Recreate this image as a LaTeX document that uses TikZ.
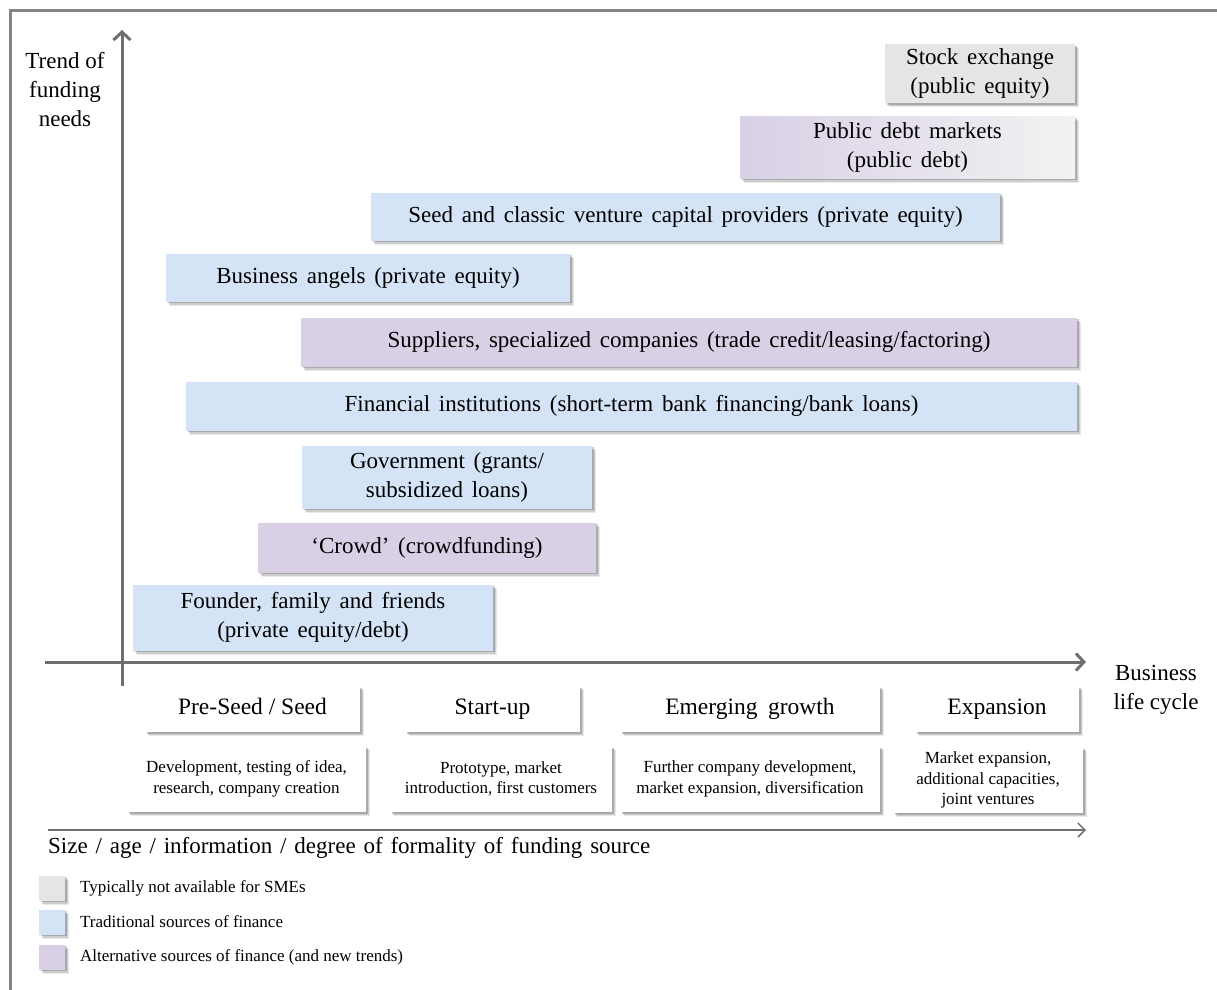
\documentclass[tikz,border=0pt]{standalone}
\usepackage{fontspec}
\setmainfont{Liberation Serif}
\usetikzlibrary{arrows.meta,shadows}
\definecolor{axisgray}{HTML}{6E6E6E}
\definecolor{framegray}{HTML}{858585}
\definecolor{tradblue}{HTML}{D5E3F6}
\definecolor{altlilac}{HTML}{D9D0E6}
\definecolor{nosme}{HTML}{E5E5E5}
\definecolor{paleend}{HTML}{F2F2F2}
\newcommand\widewords{\spaceskip=0.38em plus 0.1em\relax}
\newcommand\roomywords{\spaceskip=0.34em plus 0.1em\relax}
\tikzset{
  % layered shadows give a soft edge at the right and bottom
  softshadow/.style={
    drop shadow={shadow xshift=4pt,shadow yshift=-4pt,opacity=.12,fill=black!70},
    drop shadow={shadow xshift=3pt,shadow yshift=-3pt,opacity=.18,fill=black!70},
    drop shadow={shadow xshift=1.8pt,shadow yshift=-1.8pt,opacity=.28,fill=black!70}},
  srcbox/.style={rectangle,inner sep=0pt,align=center,softshadow,
    font=\fontsize{23}{29}\selectfont,execute at begin node=\widewords},
  trad/.style={srcbox,fill=tradblue},
  alt/.style={srcbox,fill=altlilac},
  notsme/.style={srcbox,fill=nosme},
  stagebox/.style={rectangle,inner sep=0pt,fill=white,softshadow,
    text height=16pt,text depth=5pt,
    font=\fontsize{23.5}{29}\selectfont},
  descbox/.style={rectangle,inner sep=0pt,fill=white,softshadow,align=center,
    font=\fontsize{17}{20.5}\selectfont},
  legsq/.style={rectangle,inner sep=0pt,minimum width=26,minimum height=25,softshadow},
  legtext/.style={anchor=west,inner sep=0pt,font=\fontsize{17}{20}\selectfont},
  axis/.style={draw=axisgray,line width=3pt,-{Straight Barb[length=8pt,width=17pt,line width=3pt]}},
  thinaxis/.style={draw=axisgray,line width=1.5pt,-{Straight Barb[length=7pt,width=14pt,line width=1.5pt]}},
  axislabel/.style={align=center,inner sep=0pt,font=\fontsize{23}{29}\selectfont},
}
\begin{document}
\begin{tikzpicture}[x=1pt,y=-1pt]
\useasboundingbox (0,0) rectangle (1217,989);
\begin{scope}
\clip (0,0) rectangle (1217,989);
\draw[framegray,line width=3pt] (10,10) rectangle (1240,1010);
\end{scope}

% funding sources
\node[notsme,minimum width=190,minimum height=59] (stock) at (980,73.5) {Stock exchange\\(public equity)};
\node[srcbox,left color=altlilac,right color=paleend,minimum width=335,minimum height=62] (pdebt) at (907.5,147.5) {Public debt markets\\(public debt)};
\node[trad,minimum width=629,minimum height=48] (vc) at (685.5,216.5) {Seed and classic venture capital providers (private equity)};
\node[trad,minimum width=404,minimum height=48] (angels) at (368,277.5) {Business angels (private equity)};
\node[alt,minimum width=776,minimum height=49] (suppl) at (689,342) {Suppliers, specialized companies (trade credit/leasing/factoring)};
\node[trad,minimum width=891,minimum height=49] (fin) at (631.5,406) {Financial institutions (short-term bank financing/bank loans)};
\node[trad,minimum width=290,minimum height=63] (gov) at (447,477) {Government (grants/\\subsidized loans)};
\node[alt,minimum width=338,minimum height=50] (crowd) at (427,547.5) {‘Crowd’ (crowdfunding)};
\node[trad,minimum width=360,minimum height=66] (founder) at (313,617.5) {Founder, family and friends\\(private equity/debt)};

% axes
\coordinate (vbot) at (122,686);
\coordinate (vtop) at (122,30);
\coordinate (hleft) at (45,662);
\coordinate (hright) at (1086,662);
\draw[axis] (vbot) -- (vtop);
\draw[axis] (hleft) -- (hright);
\node[axislabel] (trend) at (65,90) {Trend of\\funding\\needs};
\node[axislabel] (cycle) at (1156,690) {Business\\life cycle};

% life-cycle stages
\node[stagebox,minimum width=215,minimum height=46] (s1) at (252.5,709) {Pre-Seed / Seed};
\node[stagebox,minimum width=175,minimum height=46] (s2) at (492.5,709) {Start-up};
\node[stagebox,minimum width=260,minimum height=46] (s3) at (750,709) {Emerging\hspace{0.45em}growth};
\node[stagebox,minimum width=164,minimum height=46] (s4) at (997,709) {Expansion};

\node[descbox,minimum width=239,minimum height=66] (d1) at (246.5,779) {Development, testing of idea,\\research, company creation};
\node[descbox,minimum width=222,minimum height=66] (d2) at (501,779) {Prototype, market\\introduction, first customers};
\node[descbox,minimum width=260,minimum height=66] (d3) at (750,779) {Further company development,\\market expansion, diversification};
\node[descbox,minimum width=190,minimum height=66] (d4) at (988,780) {Market expansion,\\additional capacities,\\joint ventures};

% formality axis
\coordinate (fleft) at (48,830);
\coordinate (fright) at (1086,830);
\draw[thinaxis] (fleft) -- (fright);
\node[anchor=west,inner sep=0pt,font=\fontsize{23}{29}\selectfont,execute at begin node=\roomywords] (formal) at (48,848) {Size / age / information / degree of formality of funding source};

% legend
\node[legsq,fill=nosme] (l1) at (52,888) {};
\node[legsq,fill=tradblue] (l2) at (52,922) {};
\node[legsq,fill=altlilac] (l3) at (52,957) {};
\node[legtext] (t1) at (80,888) {Typically not available for SMEs};
\node[legtext] (t2) at (80,922) {Traditional sources of finance};
\node[legtext] (t3) at (80,957) {Alternative sources of finance (and new trends)};
\end{tikzpicture}
\end{document}
